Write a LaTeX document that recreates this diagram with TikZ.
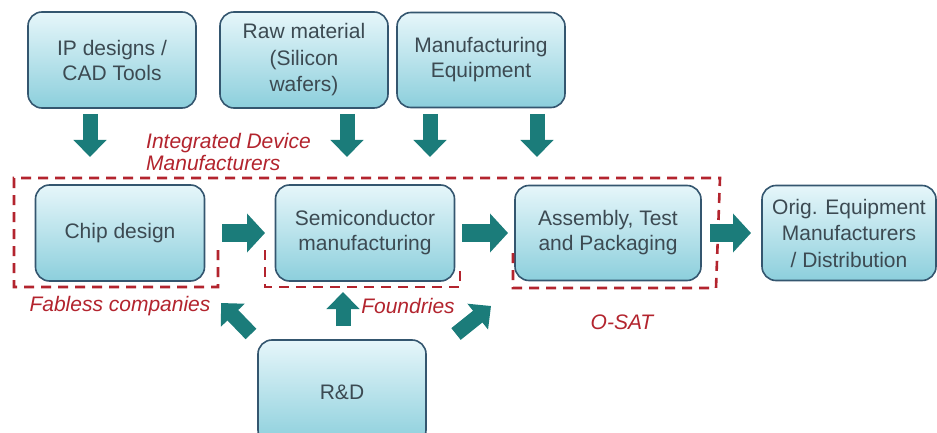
\documentclass[tikz,border=0pt]{standalone}
\usepackage{fontspec}
\setmainfont{Liberation Sans}
\usetikzlibrary{arrows.meta}
\definecolor{boxtop}{HTML}{E6F6FA}
\definecolor{boxbot}{HTML}{8CCFDC}
\definecolor{boxedge}{HTML}{34566F}
\definecolor{txt}{HTML}{3C4A52}
\definecolor{arr}{HTML}{1B7C7A}
\definecolor{dred}{HTML}{B3242E}
\tikzset{
  box/.style={rounded corners=14pt, draw=boxedge, line width=1.6pt,
    top color=boxtop, bottom color=boxbot, text=txt,
    font=\fontsize{21}{25}\selectfont, align=center, inner sep=0pt},
  box3/.style={box, font=\fontsize{21}{26.5}\selectfont},
  varrow/.style={arr, line width=15pt, -{Triangle[length=17pt,width=32pt]}},
  harrow/.style={arr, line width=18pt, -{Triangle[length=18pt,width=38pt]}},
  redlabel/.style={text=dred, font=\fontsize{21}{22}\selectfont\itshape, inner sep=0pt},
  redline/.style={draw=dred, line width=2.6pt, dash pattern=on 10pt off 7pt}
}
\begin{document}
\begin{tikzpicture}[x=1pt,y=-1pt]
\fill[white] (0,0) rectangle (937,433);
\useasboundingbox (0,0) rectangle (937,433);

% top boxes
\node[box, minimum width=168pt, minimum height=96pt] (ip) at (112,60) {IP designs /\\CAD Tools};
\node[box3, minimum width=168pt, minimum height=96pt] (raw) at (304,60) {Raw material\\(Silicon\\wafers)};
\node[box, minimum width=168pt, minimum height=95pt] (mfg) at (481,60) {Manufacturing\\Equipment};

% middle row
\node[box, minimum width=169pt, minimum height=96pt] (chip) at (120,233) {Chip design};
\node[box, minimum width=179pt, minimum height=96pt] (semi) at (365,233) {Semiconductor\\manufacturing};
\node[box, minimum width=186pt, minimum height=95pt] (atp) at (608,233) {Assembly, Test\\and Packaging};
\node[box3, minimum width=174pt, minimum height=95pt] (oem) at (849,233) {Orig. Equipment\\Manufacturers\\/ Distribution};

% R&D
\node[box, minimum width=168pt, minimum height=104pt] (rd) at (342,392) {R\&D};

% dashed groupings
\draw[redline] (218,250) -- (218,287) -- (14,287) -- (14,178) -- (720,178) -- (716,288) -- (513,288) -- (513,252);
\draw[redline] (265,250) -- (265,287) -- (460,287) -- (460,265);

% labels
\node[redlabel, align=left, anchor=west] (idm) at (146,152) {Integrated Device\\Manufacturers};
\node[redlabel] (fab) at (120,306) {Fabless companies};
\node[redlabel] (fou) at (408,306) {Foundries};
\node[redlabel] (osat) at (622,322) {O-SAT};

% down arrows
\coordinate (d1a) at (90,114);  \coordinate (d1b) at (90,157);
\coordinate (d2a) at (347,114); \coordinate (d2b) at (347,157);
\coordinate (d3a) at (430,114); \coordinate (d3b) at (430,157);
\coordinate (d4a) at (537,114); \coordinate (d4b) at (537,157);
\draw[varrow] (d1a) -- (d1b);
\draw[varrow] (d2a) -- (d2b);
\draw[varrow] (d3a) -- (d3b);
\draw[varrow] (d4a) -- (d4b);

% horizontal arrows
\coordinate (h1a) at (222,233); \coordinate (h1b) at (265,233);
\coordinate (h2a) at (462,233); \coordinate (h2b) at (508,233);
\coordinate (h3a) at (710,233); \coordinate (h3b) at (751,233);
\draw[harrow] (h1a) -- (h1b);
\draw[harrow] (h2a) -- (h2b);
\draw[harrow] (h3a) -- (h3b);

% R&D arrows
\coordinate (u1a) at (251,334); \coordinate (u1b) at (221,303);
\coordinate (u2a) at (343,326); \coordinate (u2b) at (343,292);
\coordinate (u3a) at (456,334); \coordinate (u3b) at (491,306);
\draw[varrow] (u1a) -- (u1b);
\draw[varrow] (u2a) -- (u2b);
\draw[varrow] (u3a) -- (u3b);
\end{tikzpicture}
\end{document}
